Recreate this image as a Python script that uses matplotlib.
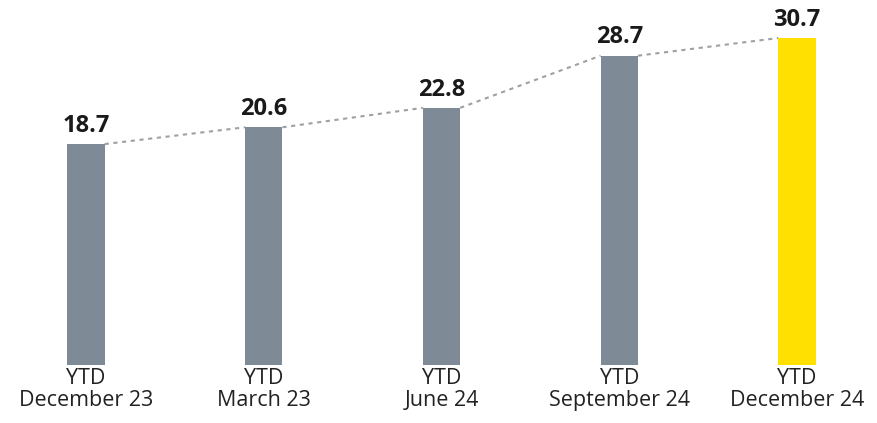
import numpy as np
import matplotlib.pyplot as plt

categories = ["YTD\nDecember 23", "YTD\nMarch 23", "YTD\nJune 24", "YTD\nSeptember 24", "YTD\nDecember 24"]
values = [18.7, 20.6, 22.8, 28.7, 30.7]
labels = ["18.7", "20.6", "22.8", "28.7", "30.7"]

gray = "#7e8a95"
yellow = "#ffe000"
colors = [gray, gray, gray, gray, yellow]

# bars in the original are not drawn from zero, they go a bit below it
base = -6.3
width = 0.21

plt.rcParams['font.family'] = ['Open Sans', 'DejaVu Sans']

fig = plt.figure(figsize=(8.77, 4.23), dpi=100)
ax = fig.add_axes([0, 0.137, 1, 0.863])

x = np.arange(len(values))
vals = np.array(values)
ax.bar(x, vals - base, bottom=base, width=width, color=colors, zorder=2)

for i in range(len(values) - 1):
    ax.plot([x[i] + width / 2, x[i + 1] - width / 2], [vals[i], vals[i + 1]],
            color="#a0a0a0", linestyle=(0, (2, 2.2)), linewidth=1.5, zorder=1)

for i in range(len(values)):
    ax.text(x[i], vals[i] + 0.7, labels[i], ha="center", va="bottom",
            fontsize=17, fontweight="bold", color="#1a1a1a")

ax.set_xlim(-0.484, 4.45)
ax.set_ylim(base, 35.0)
ax.set_xticks(x)
ax.set_xticklabels(categories, fontsize=15.5, color="#222222", linespacing=1.05)
ax.tick_params(axis="x", length=0, pad=2)
ax.set_yticks([])
for s in ax.spines.values():
    s.set_visible(False)

fig.savefig("out.png", dpi=100)
